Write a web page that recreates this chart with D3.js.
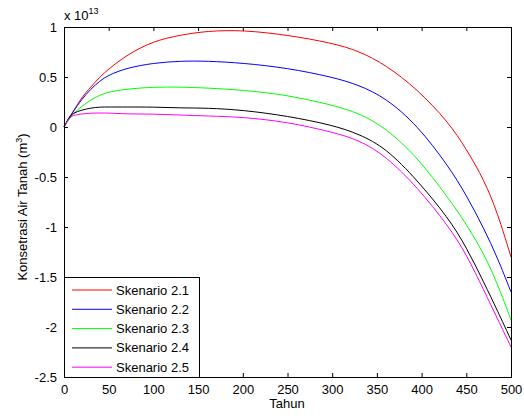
<!DOCTYPE html>
<html>
<head>
<meta charset="utf-8">
<script src="https://cdn.jsdelivr.net/npm/d3@7.9.0/dist/d3.min.js"></script>
<style>
  body { margin: 0; background: #fff; }
  svg text { font-family: "Liberation Sans", Arial, sans-serif; }
</style>
</head>
<body>
<svg id="chart" width="524" height="416"></svg>
<script>
// time axis (Tahun)
const tahun = [0, 5, 10, 20, 30, 40, 50, 70, 100, 130, 160, 200, 250, 300, 330, 360, 395, 430, 450, 470, 485, 500];

// values in units of 1e13 m3
const skenario21 = [0, 0.08, 0.15, 0.30, 0.40, 0.50, 0.58, 0.72, 0.86, 0.92, 0.96, 0.97, 0.92, 0.84, 0.76, 0.62, 0.38, 0.05, -0.22, -0.53, -0.86, -1.30];
const skenario22 = [0, 0.08, 0.15, 0.28, 0.38, 0.46, 0.52, 0.59, 0.64, 0.66, 0.66, 0.64, 0.59, 0.50, 0.42, 0.29, 0.02, -0.39, -0.68, -1.02, -1.31, -1.65];
const skenario23 = [0, 0.07, 0.13, 0.21, 0.27, 0.32, 0.35, 0.38, 0.40, 0.40, 0.39, 0.37, 0.32, 0.22, 0.14, -0.01, -0.30, -0.71, -0.97, -1.27, -1.57, -1.93];
const skenario24 = [0, 0.09, 0.14, 0.17, 0.19, 0.20, 0.20, 0.20, 0.20, 0.19, 0.19, 0.17, 0.11, 0.02, -0.07, -0.21, -0.53, -0.91, -1.20, -1.56, -1.84, -2.13];
const skenario25 = [0, 0.08, 0.12, 0.13, 0.14, 0.14, 0.14, 0.13, 0.13, 0.12, 0.11, 0.10, 0.05, -0.05, -0.13, -0.29, -0.60, -0.99, -1.27, -1.64, -1.92, -2.20];

const names = ['Skenario 2.1', 'Skenario 2.2', 'Skenario 2.3', 'Skenario 2.4', 'Skenario 2.5'];
const colors = ['#ff0000', '#0000ff', '#00ff00', '#000000', '#ff00ff'];
const allSeries = [skenario21, skenario22, skenario23, skenario24, skenario25];

const xTicks = [0, 50, 100, 150, 200, 250, 300, 350, 400, 450, 500];
const yTicks = [1, 0.5, 0, -0.5, -1, -1.5, -2, -2.5];

const plotL = 64, plotR = 511, plotT = 27, plotB = 377;

const svg = d3.select('#chart');

let x = d3.scaleLinear().domain([0, 500]).range([plotL, plotR]);
let y = d3.scaleLinear().domain([-2.5, 1]).range([plotB, plotT]);

// tick label formatting like MATLAB
const fmt = d => (d === 0 ? '0' : String(d));

// curves
const line = d3.line()
  .x((d, i) => x(tahun[i]))
  .y(d => y(d))
  .curve(d3.curveBasis);

allSeries.forEach((s, i) => {
  svg.append('path')
    .attr('d', line(s))
    .attr('fill', 'none')
    .attr('stroke', colors[i])
    .attr('stroke-width', 1);
});

// axes with inward ticks on all sides
const tickLen = 4;
svg.append('g').attr('transform', `translate(0,${plotB})`)
  .call(d3.axisBottom(x).tickValues(xTicks).tickSize(-tickLen).tickPadding(8).tickFormat(fmt))
  .call(g => g.select('.domain').remove());
svg.append('g').attr('transform', `translate(0,${plotT})`)
  .call(d3.axisTop(x).tickValues(xTicks).tickSize(-tickLen).tickFormat(''))
  .call(g => g.select('.domain').remove());
svg.append('g').attr('transform', `translate(${plotL},0)`)
  .call(d3.axisLeft(y).tickValues(yTicks).tickSize(-tickLen).tickPadding(7).tickFormat(fmt))
  .call(g => g.select('.domain').remove());
svg.append('g').attr('transform', `translate(${plotR},0)`)
  .call(d3.axisRight(y).tickValues(yTicks).tickSize(-tickLen).tickFormat(''))
  .call(g => g.select('.domain').remove());

svg.selectAll('.tick text').attr('font-size', 13).attr('fill', '#000')
  .style('font-family', '"Liberation Sans", Arial, sans-serif');
svg.selectAll('.tick line').attr('stroke', '#000');

svg.append('rect')
  .attr('x', plotL + 0.5).attr('y', plotT + 0.5)
  .attr('width', plotR - plotL).attr('height', plotB - plotT)
  .attr('fill', 'none').attr('stroke', '#000').attr('stroke-width', 1);

// exponent label
const ex = svg.append('text').attr('x', 64).attr('y', 20).attr('font-size', 13);
ex.append('tspan').text('x 10');
ex.append('tspan').attr('font-size', 9).attr('dy', -6).text('13');

// axis titles
svg.append('text')
  .attr('x', 287).attr('y', 408)
  .attr('text-anchor', 'middle').attr('font-size', 13)
  .text('Tahun');

const yl = svg.append('text')
  .attr('transform', `translate(27,207) rotate(-90)`)
  .attr('text-anchor', 'middle').attr('font-size', 13);
yl.append('tspan').text('Konsetrasi Air Tanah (m');
yl.append('tspan').attr('font-size', 9).attr('dy', -5).text('3');
yl.append('tspan').attr('dy', 5).text(')');

// legend
const lg = svg.append('g');
lg.append('rect')
  .attr('x', plotL + 0.5).attr('y', 277.5)
  .attr('width', 135).attr('height', plotB - 277)
  .attr('fill', '#fff').attr('stroke', '#000');
names.forEach((n, i) => {
  const yy = 290 + i * 19.3;
  lg.append('line')
    .attr('x1', 72).attr('x2', 112)
    .attr('y1', yy).attr('y2', yy)
    .attr('stroke', colors[i]);
  lg.append('text')
    .attr('x', 116).attr('y', yy + 4.5)
    .attr('font-size', 13)
    .text(n);
});
</script>
</body>
</html>
